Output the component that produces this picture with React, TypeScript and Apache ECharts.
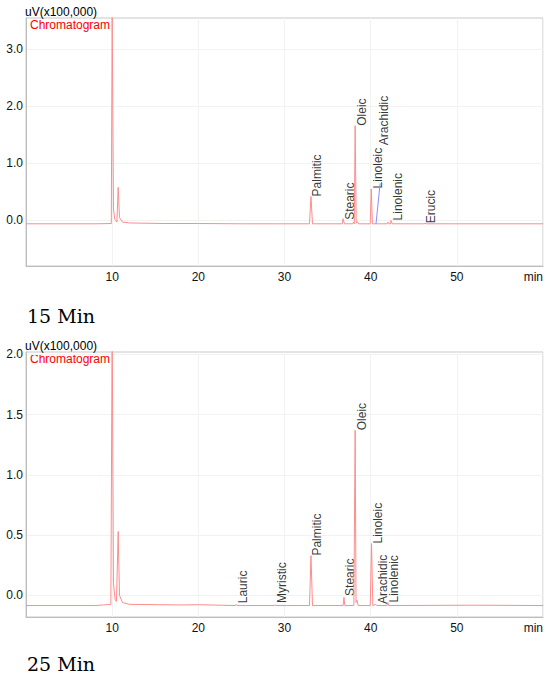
import React, { useEffect, useRef } from "react";
import * as echarts from "echarts";

// ---- data ----
const xTicks = [10, 20, 30, 40, 50, 60];
const yTicksTop = [0, 1, 2, 3];
const yTicksBottom = [0, 0.5, 1, 1.5, 2];

// 15 min chromatogram: [time (min), signal (uV x100,000)]
const trace15: number[][] = [
  [0, -0.06], [8.0, -0.06], [9.9, -0.055], [10.0, 3.7], [10.15, 0.2], [10.3, 0.02],
  [10.55, -0.03], [10.7, 0.58], [10.85, 0.05], [11.2, -0.03], [12, -0.045],
  [16, -0.055], [20, -0.055], [25, -0.06], [29, -0.06], [32.9, -0.06],
  [33.07, 0.42], [33.25, -0.06], [36.7, -0.06], [36.8, 0.03], [36.95, -0.06],
  [37.9, -0.06], [38.0, -0.03], [38.1, -0.06], [38.2, 1.66], [38.32, -0.05],
  [38.45, -0.02], [38.6, -0.06], [39.95, -0.06], [40.07, 0.55], [40.2, -0.06],
  [41.9, -0.06], [42.0, -0.03], [42.1, -0.06], [42.3, -0.06], [42.36, 0.0],
  [42.5, -0.06], [46.2, -0.06], [46.3, -0.05], [46.45, -0.06], [60, -0.06],
];
const blueLine15: number[][] = [[40.62, -0.06], [41.1, 0.65]];
const peakNames15 = ["Palmitic", "Stearic", "Oleic", "Linoleic", "Arachidic", "Linolenic", "Erucic"];
const peakTimes15 = [33.07, 36.8, 38.2, 40.07, 40.77, 42.36, 46.27];
const peakLabelY15 = [0.42, 0.01, 1.66, 0.56, 1.32, 0.0, -0.05];

// 25 min chromatogram
const trace25: number[][] = [
  [0, -0.085], [8, -0.085], [9.0, -0.08], [9.85, -0.075], [10.0, 2.3], [10.15, 0.1],
  [10.35, -0.04], [10.5, -0.05], [10.7, 0.53], [10.85, 0.0], [11.2, -0.06],
  [12, -0.075], [18, -0.08], [20, -0.078], [24.3, -0.085], [24.4, -0.075],
  [24.5, -0.085], [28.8, -0.085], [28.9, -0.078], [29.0, -0.085], [32.9, -0.085],
  [33.07, 0.33], [33.25, -0.085], [36.8, -0.085], [36.9, -0.016], [37.0, -0.085],
  [38.05, -0.085], [38.2, 1.37], [38.3, -0.06], [38.4, -0.04], [38.55, -0.085],
  [39.95, -0.085], [40.1, 0.43], [40.25, -0.085], [40.6, -0.075], [40.7, -0.085],
  [41.9, -0.085], [42.0, -0.06], [42.1, -0.085], [52, -0.082], [60, -0.085],
];
const peakNames25 = ["Lauric", "Myristic", "Palmitic", "Stearic", "Oleic", "Linoleic", "Arachidic", "Linolenic"];
const peakTimes25 = [24.4, 28.93, 33.07, 36.9, 38.2, 40.1, 40.65, 42.0];
const peakLabelY25 = [-0.066, -0.063, 0.33, -0.005, 1.37, 0.43, -0.072, -0.06];

const FONT = "'Liberation Sans', Arial, sans-serif";
const TRACE = "#ff8c8c";

function xAxisFor(i: number) {
  return {
    type: "value",
    gridIndex: i,
    min: 0,
    max: 60,
    axisLine: { show: true, onZero: false, lineStyle: { color: "#bdbdbd" } },
    axisTick: { show: false, customValues: xTicks },
    axisLabel: {
      customValues: xTicks,
      formatter: (v: number) => (v === 60 ? "min" : String(v)),
      color: "#111",
      fontSize: 12,
      fontFamily: FONT,
      margin: 5,
      alignMaxLabel: "right",
    },
    splitLine: { show: true, lineStyle: { color: "#f2f2f2" } },
  };
}

function yAxisFor(i: number, min: number, max: number, ticks: number[]) {
  return {
    type: "value",
    gridIndex: i,
    min,
    max,
    axisLine: { show: true, onZero: false, lineStyle: { color: "#bdbdbd" } },
    axisTick: { show: false, customValues: ticks },
    axisLabel: {
      customValues: ticks,
      formatter: (v: number) => v.toFixed(1),
      color: "#111",
      fontSize: 12,
      fontFamily: FONT,
      margin: 3,
    },
    splitLine: { show: true, lineStyle: { color: "#f2f2f2" } },
  };
}

function labelSeries(i: number, names: string[], times: number[], ys: number[]) {
  return {
    type: "scatter",
    xAxisIndex: i,
    yAxisIndex: i,
    symbolSize: 1,
    itemStyle: { color: "rgba(0,0,0,0)" },
    silent: true,
    data: names.map((n, k) => [times[k], ys[k], n]),
    label: {
      show: true,
      formatter: (p: any) => p.data[2],
      position: "right",
      distance: 6,
      rotate: 90,
      align: "left",
      verticalAlign: "middle",
      color: "#000",
      fontSize: 12,
      fontFamily: FONT,
    },
  };
}

export default function App() {
  const ref = useRef<HTMLDivElement>(null);
  useEffect(() => {
    if (!ref.current) return;
    const chart = echarts.init(ref.current, null, { renderer: "svg" });
    chart.setOption({
      animation: false,
      backgroundColor: "#ffffff",
      grid: [
        { left: 26, top: 18, width: 517, height: 248, show: true, borderColor: "#c8c8c8", borderWidth: 1 },
        { left: 26, top: 352, width: 517, height: 265, show: true, borderColor: "#c8c8c8", borderWidth: 1 },
      ],
      xAxis: [xAxisFor(0), xAxisFor(1)],
      yAxis: [yAxisFor(0, -0.8, 3.55, yTicksTop), yAxisFor(1, -0.18, 2.02, yTicksBottom)],
      series: [
        {
          type: "line", xAxisIndex: 0, yAxisIndex: 0, data: trace15, showSymbol: false,
          lineStyle: { color: TRACE, width: 1 }, clip: true, silent: true,
        },
        {
          type: "line", xAxisIndex: 0, yAxisIndex: 0, data: blueLine15, showSymbol: false,
          lineStyle: { color: "#8c8cff", width: 1 }, clip: true, silent: true,
        },
        labelSeries(0, peakNames15, peakTimes15, peakLabelY15),
        {
          type: "line", xAxisIndex: 1, yAxisIndex: 1, data: trace25, showSymbol: false,
          lineStyle: { color: TRACE, width: 1 }, clip: true, silent: true,
        },
        labelSeries(1, peakNames25, peakTimes25, peakLabelY25),
      ],
      graphic: [
        { type: "text", x: 25, y: 12, style: { text: "uV(x100,000)", fill: "#000", fontSize: 12, fontFamily: FONT, verticalAlign: "middle" } },
        { type: "text", x: 30, y: 25, style: { text: "Chromatogram", fill: "#ff0000", fontSize: 12, fontFamily: FONT, verticalAlign: "middle" } },
        { type: "text", x: 27, y: 316, style: { text: "15 Min", fill: "#000", fontSize: 19, fontFamily: "'DejaVu Serif', serif", verticalAlign: "middle" } },
        { type: "text", x: 25, y: 346, style: { text: "uV(x100,000)", fill: "#000", fontSize: 12, fontFamily: FONT, verticalAlign: "middle" } },
        { type: "text", x: 30, y: 359, style: { text: "Chromatogram", fill: "#ff0000", fontSize: 12, fontFamily: FONT, verticalAlign: "middle" } },
        { type: "text", x: 27, y: 664, style: { text: "25 Min", fill: "#000", fontSize: 19, fontFamily: "'DejaVu Serif', serif", verticalAlign: "middle" } },
      ],
    });
    return () => chart.dispose();
  }, []);
  return (
    <div
      ref={ref}
      style={{ position: "fixed", left: 0, top: 0, width: 550, height: 678, background: "#fff" }}
    />
  );
}
